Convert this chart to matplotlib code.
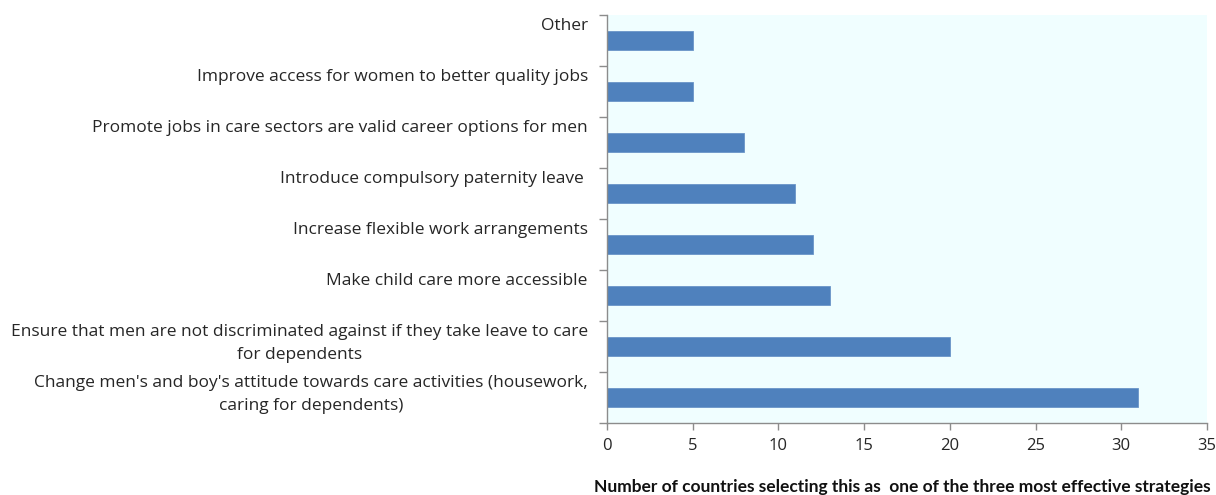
import matplotlib
matplotlib.use("Agg")
import matplotlib.pyplot as plt
import numpy as np

# Strategies, listed bottom-to-top as drawn on the chart
strategies = [
    "Change men's and boy's attitude towards care activities (housework,\ncaring for dependents)",
    "Ensure that men are not discriminated against if they take leave to care\nfor dependents",
    "Make child care more accessible",
    "Increase flexible work arrangements",
    "Introduce compulsory paternity leave ",
    "Promote jobs in care sectors are valid career options for men",
    "Improve access for women to better quality jobs",
    "Other",
]
counts = [31, 20, 13, 12, 11, 8, 5, 5]
x_ticks = [0, 5, 10, 15, 20, 25, 30, 35]
x_label = "Number of countries selecting this as  one of the three most effective strategies"

BAR_COLOR = "#4F81BD"
PANEL_COLOR = "#F0FEFF"
AXIS_COLOR = "#8C8C8C"
TEXT_COLOR = "#262626"

plt.rcParams["font.family"] = ["Open Sans", "DejaVu Sans"]

fig = plt.figure(figsize=(12.16, 4.95), dpi=100)
ax = fig.add_axes([0.499, 0.1455, 0.4936, 0.8242])
ax.set_facecolor(PANEL_COLOR)

y = np.arange(len(strategies))
ax.barh(y, counts, height=0.37, color=BAR_COLOR, edgecolor="#6A95C8", linewidth=0.6)

ax.set_xlim(0, 35)
ax.set_ylim(-0.5, len(strategies) - 0.5)

ax.set_xticks(x_ticks)
ax.set_xticklabels([str(t) for t in x_ticks], fontsize=12, color=TEXT_COLOR)
ax.tick_params(axis="x", direction="out", length=5, width=1, color=AXIS_COLOR, pad=6)

# Category boundaries carry the y tick marks; labels are placed as text
ax.set_yticks([])
ax.set_yticks(np.arange(-0.5, len(strategies)), minor=True)
ax.tick_params(axis="y", which="minor", direction="out", length=6, width=1, color=AXIS_COLOR)

for side in ("top", "right"):
    ax.spines[side].set_visible(False)
for side in ("left", "bottom"):
    ax.spines[side].set_color(AXIS_COLOR)
    ax.spines[side].set_linewidth(1)

for yi, label in zip(y, strategies):
    ax.annotate(label, xy=(0, yi), xytext=(-19, 22), textcoords="offset pixels",
                ha="right", va="top", multialignment="center",
                fontsize=12.5, color=TEXT_COLOR, linespacing=1.55,
                annotation_clip=False)

fig.text(0.742, 0.0, x_label, ha="center", va="bottom", fontsize=12.5,
         fontweight="bold", color="#111111", family=["Lato", "DejaVu Sans"])

fig.savefig("out.png", dpi=100)
